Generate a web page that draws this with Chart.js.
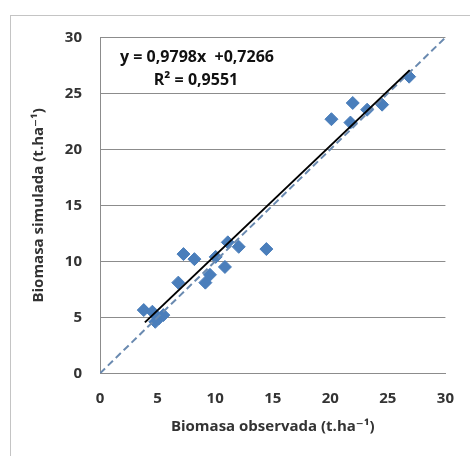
<!DOCTYPE html>
<html>
<head>
<meta charset="utf-8">
<script src="https://cdn.jsdelivr.net/npm/chart.js@4.4.1/dist/chart.umd.min.js"></script>
<style>
  html, body { margin: 0; padding: 0; background: #fff; }
  #wrap { position: relative; width: 470px; height: 456px; }
</style>
</head>
<body>
<div id="wrap"><canvas id="biomasa"></canvas></div>
<script>
// Biomasa observada vs simulada (t.ha-1)
const observada = [3.8, 4.55, 4.8, 5.1, 5.5, 6.8, 7.25, 8.2, 9.15, 9.55, 10.05, 10.85, 11.1, 12.05, 14.45, 20.1, 21.75, 21.95, 23.2, 24.5, 26.85];
const simulada  = [5.65, 5.5, 4.6, 4.9, 5.2, 8.1, 10.65, 10.2, 8.1, 8.8, 10.4, 9.5, 11.7, 11.3, 11.1, 22.7, 22.4, 24.15, 23.55, 24.0, 26.5];

// Linear fit reported on the chart
const slope = 0.9798;
const intercept = 0.7266;
const r2Text = '0,9551';
const fitRange = [3.9, 26.9];
const identityRange = [0, 30];

const axisMin = 0;
const axisMax = 30;
const tickStep = 5;

const fitPoints = fitRange.map(x => ({ x: x, y: slope * x + intercept }));
const identityPoints = identityRange.map(v => ({ x: v, y: v }));
const points = observada.map((x, i) => ({ x: x, y: simulada[i] }));

const textColor = '#333333';
const fontFamily = "'Open Sans', 'DejaVu Sans', sans-serif";

// white page with the thin chart frame
const framePlugin = {
    id: 'frame',
    beforeDraw(chart) {
        const c = chart.ctx;
        c.save();
        c.fillStyle = '#fff';
        c.fillRect(0, 0, chart.width, chart.height);
        c.strokeStyle = '#c4c4c4';
        c.lineWidth = 1;
        c.strokeRect(10.5, 15.5, chart.width + 20, chart.height + 20);
        c.restore();
    }
};

// equation and R² text
const equationPlugin = {
    id: 'equation',
    afterDatasetsDraw(chart) {
        const c = chart.ctx;
        const area = chart.chartArea;
        c.save();
        c.fillStyle = '#111';
        c.font = 'bold 16px ' + fontFamily;
        c.textAlign = 'center';
        c.textBaseline = 'middle';
        const eq = 'y = ' + slope.toFixed(4).replace('.', ',') + 'x  +' + intercept.toFixed(4).replace('.', ',');
        c.fillText(eq, area.left + 97, area.top + 20);
        c.fillText('R\u00B2 = ' + r2Text, area.left + 96, area.top + 43);
        c.restore();
    }
};

const chart = new Chart(document.getElementById('biomasa').getContext('2d'), {
    type: 'scatter',
    data: {
        datasets: [
            {
                label: 'Ajuste',
                data: fitPoints,
                showLine: true,
                borderColor: '#000',
                borderWidth: 2,
                pointRadius: 0,
                order: 0
            },
            {
                label: '1:1',
                data: identityPoints,
                showLine: true,
                borderColor: '#6a8ab0',
                borderWidth: 2,
                borderDash: [7, 4],
                pointRadius: 0,
                order: 1
            },
            {
                label: 'Biomasa',
                data: points,
                pointStyle: 'rectRot',
                pointRadius: 6.5,
                backgroundColor: '#4a7ebb',
                borderColor: '#4a7ebb',
                borderWidth: 1,
                order: 2
            }
        ]
    },
    options: {
        responsive: true,
        maintainAspectRatio: false,
        animation: false,
        layout: { padding: { left: 0, top: 37.5, right: 22, bottom: 0 } },
        plugins: {
            legend: { display: false },
            tooltip: { enabled: false }
        },
        scales: {
            x: {
                type: 'linear',
                min: axisMin,
                max: axisMax,
                grid: { display: false, drawTicks: false },
                border: { display: true, color: '#8c8c8c', width: 1 },
                ticks: {
                    stepSize: tickStep,
                    padding: 16,
                    color: textColor,
                    font: { family: fontFamily, size: 15, weight: 'bold' }
                },
                title: {
                    display: true,
                    text: 'Biomasa observada (t.ha\u207B\u00B9)',
                    color: textColor,
                    padding: { top: 0, bottom: 20.5 },
                    font: { family: fontFamily, size: 15, weight: 'bold' }
                },
                afterFit(scale) { scale.height = 82.7; }
            },
            y: {
                type: 'linear',
                min: axisMin,
                max: axisMax,
                grid: { color: '#8c8c8c', lineWidth: 1, drawTicks: false },
                border: { display: true, color: '#8c8c8c', width: 1 },
                ticks: {
                    stepSize: tickStep,
                    padding: 18,
                    color: textColor,
                    font: { family: fontFamily, size: 15, weight: 'bold' }
                },
                title: {
                    display: true,
                    text: 'Biomasa simulada (t.ha\u207B\u00B9)',
                    color: textColor,
                    padding: { top: 30, bottom: 0 },
                    font: { family: fontFamily, size: 15, weight: 'bold' }
                },
                afterFit(scale) { scale.width = 100; }
            }
        }
    },
    plugins: [framePlugin, equationPlugin]
});
</script>
</body>
</html>
